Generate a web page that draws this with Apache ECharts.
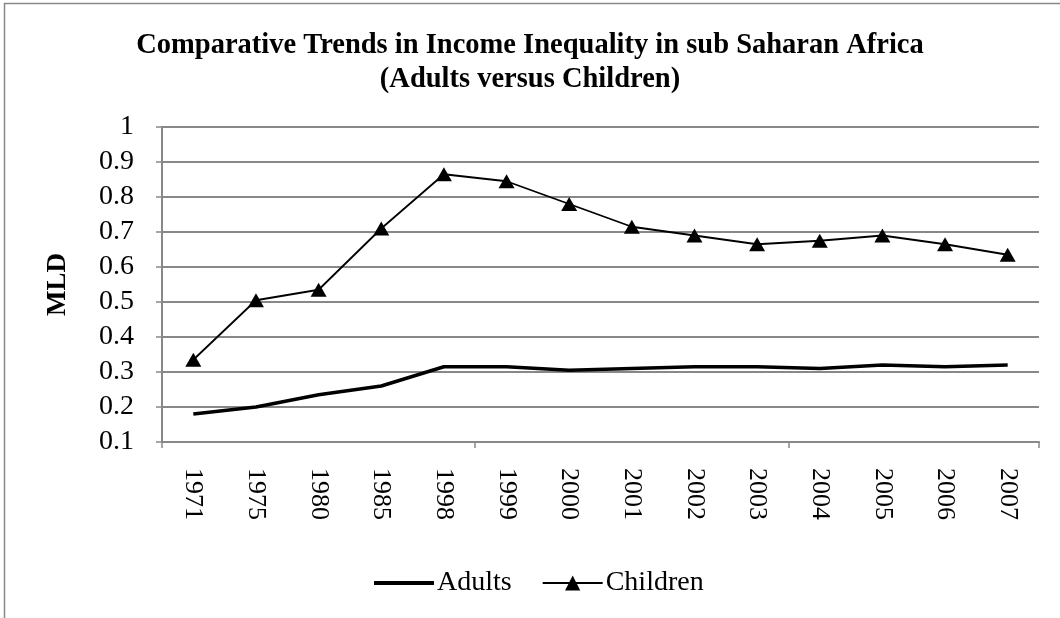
<!DOCTYPE html>
<html>
<head>
<meta charset="utf-8">
<script src="https://cdn.jsdelivr.net/npm/echarts@6/dist/echarts.min.js"></script>
<style>
  html, body { margin: 0; padding: 0; background: #fff; }
  #chart { width: 1060px; height: 618px; }
</style>
</head>
<body>
<div id="chart"></div>
<script>
// Survey years on the category axis
const years = ['1971', '1975', '1980', '1985', '1998', '1999', '2000', '2001', '2002', '2003', '2004', '2005', '2006', '2007'];
// Mean log deviation (MLD) by group
const adults = [0.18, 0.20, 0.235, 0.26, 0.315, 0.315, 0.305, 0.31, 0.315, 0.315, 0.31, 0.32, 0.315, 0.32];
const children = [0.335, 0.505, 0.535, 0.71, 0.865, 0.845, 0.78, 0.715, 0.69, 0.665, 0.675, 0.69, 0.665, 0.635];

const serif = 'Liberation Serif';
const gray = '#888888';

const chart = echarts.init(document.getElementById('chart'), null, { renderer: 'canvas' });
chart.setOption({
  backgroundColor: '#fff',
  animation: false,
  title: {
    text: 'Comparative Trends in Income Inequality in sub Saharan Africa\n(Adults versus Children)',
    left: 'center',
    top: 29,
    padding: 0,
    textStyle: { fontFamily: serif, fontWeight: 'bold', fontSize: 28.5, lineHeight: 34, color: '#000' }
  },
  graphic: [
    { type: 'line', shape: { x1: 4, y1: 3.5, x2: 1060, y2: 3.5 }, style: { stroke: gray, lineWidth: 1.5 } },
    { type: 'line', shape: { x1: 4.5, y1: 3, x2: 4.5, y2: 618 }, style: { stroke: gray, lineWidth: 1.5 } }
  ],
  grid: { left: 162, right: 21, top: 127, bottom: 176, containLabel: false },
  legend: {
    top: 569,
    left: 372,
    padding: 0,
    itemWidth: 60,
    itemHeight: 19,
    itemGap: 30,
    textStyle: { fontFamily: serif, fontSize: 28, color: '#000', padding: [0, 0, 0, -2] },
    data: [
      { name: 'Adults', itemStyle: { opacity: 0 }, lineStyle: { width: 4, color: '#000' } },
      { name: 'Children', lineStyle: { width: 2, color: '#000' } }
    ]
  },
  xAxis: {
    type: 'category',
    data: years,
    boundaryGap: true,
    axisLine: { lineStyle: { color: gray, width: 2 } },
    axisTick: {
      show: true,
      interval: idx => idx % 5 === 0 && idx < years.length,
      length: 6,
      lineStyle: { color: gray, width: 1.5 }
    },
    axisLabel: {
      interval: 0,
      rotate: -90,
      margin: 26,
      fontFamily: serif,
      fontSize: 26,
      color: '#000'
    },
    splitLine: { show: false }
  },
  yAxis: {
    type: 'value',
    min: 0.1,
    max: 1,
    interval: 0.1,
    name: 'MLD',
    nameLocation: 'middle',
    nameGap: 90,
    nameRotate: 90,
    nameTextStyle: { fontFamily: serif, fontWeight: 'bold', fontSize: 27, color: '#000' },
    axisLine: { show: true, lineStyle: { color: gray, width: 2 } },
    axisTick: { show: true, length: 6, lineStyle: { color: gray, width: 1.5 } },
    axisLabel: {
      margin: 28,
      fontFamily: serif,
      fontSize: 28,
      color: '#000',
      formatter: v => String(Math.round(v * 10) / 10)
    },
    splitLine: { show: true, lineStyle: { color: gray, width: 2 } }
  },
  series: [
    {
      name: 'Adults',
      type: 'line',
      data: adults,
      symbol: 'none',
      lineStyle: { color: '#000', width: 3.5 },
      itemStyle: { color: '#000' }
    },
    {
      name: 'Children',
      type: 'line',
      data: children,
      symbol: 'triangle',
      symbolSize: [16, 14],
      lineStyle: { color: '#000', width: 1.8 },
      itemStyle: { color: '#000' }
    }
  ]
});
</script>
</body>
</html>
